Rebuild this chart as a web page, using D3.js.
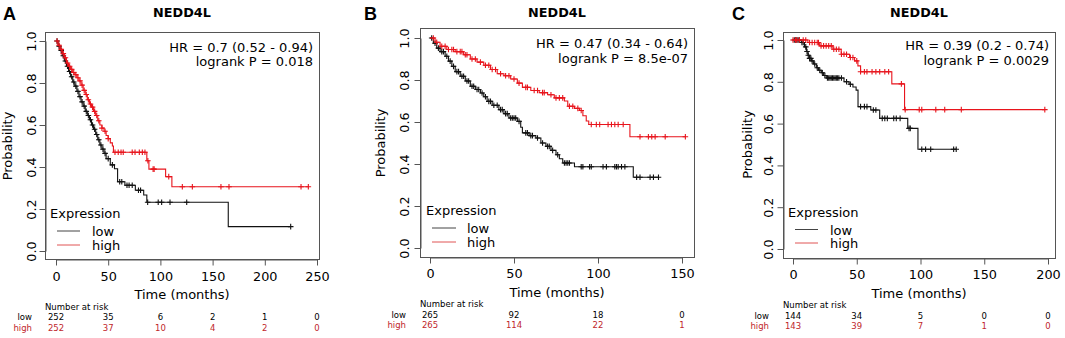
<!DOCTYPE html>
<html>
<head>
<meta charset="utf-8">
<script src="https://cdn.jsdelivr.net/npm/d3@7"></script>
<style>
  body { margin: 0; background: #fff; }
  text { font-family: "DejaVu Sans", sans-serif; }
</style>
</head>
<body>
<svg id="svg" width="1065" height="338"></svg>
<script>
// ---- panel A ----
const aHighSteps = [[0,1],[2,0.98],[4,0.96],[6,0.94],[8,0.92],[10,0.895],[12,0.88],[14,0.865],[16,0.85],[18,0.84],[20,0.825],[22,0.81],[24,0.79],[26,0.765],[28,0.745],[30,0.72],[32,0.70],[34,0.685],[36,0.665],[38,0.645],[40,0.62],[42,0.60],[44,0.585],[46,0.57],[48,0.55],[50,0.535],[52,0.515],[54,0.50],[55,0.47],[87,0.43],[89,0.39],[105,0.354],[111,0.306]]
const aHighCensor = [1,3,5,7,9,11,13,15,17,19,21,23,25,27,29,31,33,35,37,39,41,44,47,50,56.5,59.6,62.3,64.4,73,75.7,79.8,82.7,85.2,88,93,94,108,121,130.6,158,165.7,234.7,241.7]
const aLowSteps = [[0,1],[2,0.975],[4,0.955],[6,0.93],[8,0.905],[10,0.88],[12,0.855],[14,0.83],[16,0.805],[18,0.785],[20,0.76],[22,0.735],[24,0.71],[26,0.69],[28,0.665],[30,0.645],[32,0.625],[34,0.6],[36,0.58],[38,0.555],[40,0.53],[42,0.505],[44,0.485],[46,0.465],[48,0.44],[52,0.41],[56,0.392],[59,0.33],[66,0.313],[76,0.289],[84,0.267],[87,0.232],[165,0.116]]
const aLowCensor = [1,3,5,7,9,11,13,15,17,19,21,23,25,27,29,31,33,35,37,39,41,43,45,47,50,54,61,63,68,70,73,79,81,87.8,97.9,101.2,109.2,125.2,224.8]
const aTicks = [0,50,100,150,200,250]
const aRiskLow = [252,35,6,2,1,0]
const aRiskHigh = [252,37,10,4,2,0]

// ---- panel B ----
const bHighSteps = [[0,1],[3,0.98],[6,0.96],[10,0.945],[15,0.935],[20,0.92],[24,0.9],[28,0.885],[32,0.87],[36,0.85],[40,0.83],[44,0.82],[48,0.805],[52,0.785],[55,0.765],[60,0.75],[65,0.74],[70,0.73],[74,0.715],[80,0.70],[82,0.675],[86,0.665],[89,0.655],[91,0.63],[93,0.605],[94.5,0.588],[119,0.53]]
const bHighCensor = [2,4,7,9,11,13,14,16,18,19,21,22,25,27,30,33,35,37,39,42,45,47,50,53,57,58,62,64,67,68,72,75,77,79,83,85,88,90,96,99,101,106,108,110,112,115,125,130,132,134,140,152]
const bLowSteps = [[0,1],[2,0.975],[4,0.952],[6,0.935],[9,0.913],[11,0.89],[13,0.865],[15,0.84],[18,0.818],[21,0.795],[24,0.77],[27,0.755],[30,0.738],[32,0.72],[34,0.698],[37,0.68],[41,0.659],[44,0.64],[47,0.619],[52,0.603],[54,0.575],[55,0.548],[59,0.535],[63,0.524],[66,0.5],[69,0.484],[72,0.465],[75,0.444],[77,0.425],[79,0.405],[86,0.387],[121,0.337]]
const bLowCensor = [1,3,5,7,8,10,12,14,16,17,19,20,22,23,25,26,28,29,31,33,35,36,38,40,42,43,45,46,48,49,50,51,53,57,58,60,61,64,67,70,71,73,76,80,81,82,83,90,91,95,96,103,105,110,111,112,114,116,123,125,131,133,136]
const bTicks = [0,50,100,150]
const bRiskLow = [265,92,18,0]
const bRiskHigh = [265,114,22,1]

// ---- panel C ----
const cHighSteps = [[0,1],[11.7,0.988],[20.9,0.972],[31.3,0.956],[37.8,0.932],[44.4,0.916],[48.3,0.9],[50.9,0.876],[53,0.848],[77.5,0.79],[87.5,0.667]]
const cHighCensor = [0,2,3,5,8,10,13,15,17,19,20,22,24,26,28,30,32,34,36,38,40,42,45,47,50,53,56,58,62,65,68,72,75,85,88,99,101,112,119,132,197.5]
const cLowSteps = [[0,1],[6.5,0.988],[9,0.967],[10.5,0.945],[11.7,0.927],[13,0.912],[14.4,0.9],[16,0.885],[18.3,0.867],[20,0.855],[22.2,0.843],[24,0.83],[26.1,0.818],[40,0.8],[44,0.788],[47,0.775],[49.5,0.76],[51,0.681],[61,0.665],[68,0.625],[90,0.577],[98,0.477]]
const cLowCensor = [1,2,3,4,5,7,8,10,11,12,13,14,15,17,19,21,23,25,27,28,29,30,31,32,33,34,35,36,38,42,45,53,56,58,63,65,70,72,74,79,81,84,91,92,101,104,108,126,128]
const cTicks = [0,50,100,150,200]
const cRiskLow = [144,34,5,0,0]
const cRiskHigh = [143,39,7,1,0]

const letters = ['A', 'B', 'C']
const hrTexts = ['HR = 0.7 (0.52 - 0.94)', 'HR = 0.47 (0.34 - 0.64)', 'HR = 0.39 (0.2 - 0.74)']
const pTexts = ['logrank P = 0.018', 'logrank P = 8.5e-07', 'logrank P = 0.0029']
const yTicks = [0, 0.2, 0.4, 0.6, 0.8, 1.0]

const red = '#e8141c'
const darkRed = '#c0262b'

// layout (pixels) for each panel
const layouts = [
  { box: [45, 32, 319, 259], x: [56, 317], y: [251, 41], letterX: 3, title: 182, hrY: [51.5, 65.5],
    yLab: 35, prob: 12, xLab: 280, time: 299, nar: 309.5, low: 320, high: 330.5, rowR: 32,
    leg: { x: 50, y: 218, line: [57, 80], text: 92, low: 236, high: 250 } },
  { box: [420, 28, 694, 257], x: [430, 682], y: [248, 38], letterX: 364, title: 557, hrY: [47.5, 62.5],
    yLab: 408, prob: 385, xLab: 277, time: 297, nar: 307, low: 317.5, high: 328, rowR: 406,
    leg: { x: 426, y: 215, line: [432, 456], text: 467, low: 233, high: 247 } },
  { box: [783, 32, 1055, 258], x: [793, 1048], y: [249, 40], letterX: 732, title: 919, hrY: [50, 65],
    yLab: 772, prob: 752, xLab: 278, time: 298, nar: 308, low: 318.5, high: 329, rowR: 769,
    leg: { x: 788, y: 216.5, line: [795, 818], text: 830, low: 234.5, high: 248 } }
]

const panelData = [
  { low: aLowSteps, high: aHighSteps, lowC: aLowCensor, highC: aHighCensor, ticks: aTicks, rLow: aRiskLow, rHigh: aRiskHigh },
  { low: bLowSteps, high: bHighSteps, lowC: bLowCensor, highC: bHighCensor, ticks: bTicks, rLow: bRiskLow, rHigh: bRiskHigh },
  { low: cLowSteps, high: cHighSteps, lowC: cLowCensor, highC: cHighCensor, ticks: cTicks, rLow: cRiskLow, rHigh: cRiskHigh }
]

const svg = d3.select('#svg')
const bis = d3.bisector(d => d[0]).right

function survAt(steps, t) {
  return steps[Math.max(0, bis(steps, t) - 1)][1]
}

panelData.forEach((pd, i) => {
  const L = layouts[i]
  const g = svg.append('g')
  const xScale = d3.scaleLinear().domain([0, d3.max(pd.ticks)]).range(L.x)
  const yScale = d3.scaleLinear().domain([0, 1]).range(L.y)

  // panel letter and title
  g.append('text').attr('x', L.letterX).attr('y', 19.5)
    .style('font-family', '"Liberation Sans", Arial, sans-serif')
    .style('font-weight', 'bold').style('font-size', '18px').text(letters[i])
  g.append('text').attr('x', L.title).attr('y', 17)
    .attr('text-anchor', 'middle').style('font-weight', 'bold').style('font-size', '12.8px').text('NEDD4L')

  // box
  g.append('rect')
    .attr('x', L.box[0] + 0.5).attr('y', L.box[1] + 0.5)
    .attr('width', L.box[2] - L.box[0]).attr('height', L.box[3] - L.box[1])
    .attr('fill', 'none').attr('stroke', '#555').attr('stroke-width', 1)

  // axes
  const xAxis = g.append('g').attr('transform', `translate(0,${L.box[3] + 0.5})`)
    .call(d3.axisBottom(xScale).tickValues(pd.ticks).tickSize(6).tickSizeOuter(0).tickFormat(d3.format('d')))
  xAxis.select('.domain').attr('stroke', '#555')
  xAxis.selectAll('.tick line').attr('stroke', '#555')
  xAxis.selectAll('text').attr('dy', null).attr('y', L.xLab - L.box[3])
    .style('font-size', '12.8px').style('font-family', '"DejaVu Sans", sans-serif').attr('fill', '#000')

  const yAxis = g.append('g').attr('transform', `translate(${L.box[0] + 0.5},0)`)
    .call(d3.axisLeft(yScale).tickValues(yTicks).tickSize(6).tickSizeOuter(0).tickFormat(d3.format('.1f')))
  yAxis.select('.domain').attr('stroke', '#555')
  yAxis.selectAll('.tick line').attr('stroke', '#555')
  yAxis.selectAll('text').attr('dy', null).attr('x', 0).attr('y', -(L.box[0] - L.yLab))
    .attr('transform', 'rotate(-90)').attr('text-anchor', 'middle')
    .style('font-size', '12.8px').style('font-family', '"DejaVu Sans", sans-serif').attr('fill', '#000')

  // axis titles
  g.append('text').attr('transform', `translate(${L.prob},${(L.y[0] + L.y[1]) / 2}) rotate(-90)`)
    .attr('text-anchor', 'middle').style('font-size', '13px').text('Probability')
  g.append('text').attr('x', (L.box[0] + L.box[2]) / 2).attr('y', L.time)
    .attr('text-anchor', 'middle').style('font-size', '13px').text('Time (months)')

  // survival curves
  const line = d3.line().x(d => xScale(d[0])).y(d => yScale(d[1])).curve(d3.curveStepAfter)
  const series = [
    { steps: pd.low, cens: pd.lowC, color: '#111' },
    { steps: pd.high, cens: pd.highC, color: red }
  ]
  series.forEach(s => {
    const end = d3.max(s.cens)
    const pts = s.steps.concat([[end, s.steps[s.steps.length - 1][1]]])
    g.append('path').attr('d', line(pts)).attr('fill', 'none')
      .attr('stroke', s.color).attr('stroke-width', 1.1)
    g.selectAll(null).data(s.cens).enter().append('path')
      .attr('d', t => {
        const cx = xScale(t), cy = yScale(survAt(s.steps, t))
        return `M${cx - 2.8},${cy}H${cx + 2.8}M${cx},${cy - 2.8}V${cy + 2.8}`
      })
      .attr('stroke', s.color).attr('stroke-width', 1.1)
  })

  // HR text
  g.append('text').attr('x', L.box[2] - 6).attr('y', L.hrY[0]).attr('text-anchor', 'end')
    .style('font-size', '13px').text(hrTexts[i])
  g.append('text').attr('x', L.box[2] - 6).attr('y', L.hrY[1]).attr('text-anchor', 'end')
    .style('font-size', '13px').text(pTexts[i])

  // legend
  g.append('text').attr('x', L.leg.x).attr('y', L.leg.y).style('font-size', '13px').text('Expression')
  const legItems = [['low', '#444', L.leg.low], ['high', '#e05555', L.leg.high]]
  legItems.forEach(([lab, col, ly]) => {
    g.append('line').attr('x1', L.leg.line[0]).attr('x2', L.leg.line[1])
      .attr('y1', ly - 5).attr('y2', ly - 5).attr('stroke', col).attr('stroke-width', 1)
    g.append('text').attr('x', L.leg.text).attr('y', ly).style('font-size', '13px').text(lab)
  })

  // number at risk
  g.append('text').attr('x', L.box[0]).attr('y', L.nar).style('font-size', '8.5px').text('Number at risk')
  g.append('text').attr('x', L.rowR).attr('y', L.low).attr('text-anchor', 'end').style('font-size', '8.5px').text('low')
  g.append('text').attr('x', L.rowR).attr('y', L.high).attr('text-anchor', 'end').style('font-size', '8.5px')
    .attr('fill', darkRed).text('high')
  g.selectAll(null).data(pd.ticks).enter().append('text')
    .attr('x', d => xScale(d)).attr('y', L.low).attr('text-anchor', 'middle').style('font-size', '8.5px')
    .text((d, j) => pd.rLow[j])
  g.selectAll(null).data(pd.ticks).enter().append('text')
    .attr('x', d => xScale(d)).attr('y', L.high).attr('text-anchor', 'middle').style('font-size', '8.5px')
    .attr('fill', darkRed).text((d, j) => pd.rHigh[j])
})
</script>
</body>
</html>
